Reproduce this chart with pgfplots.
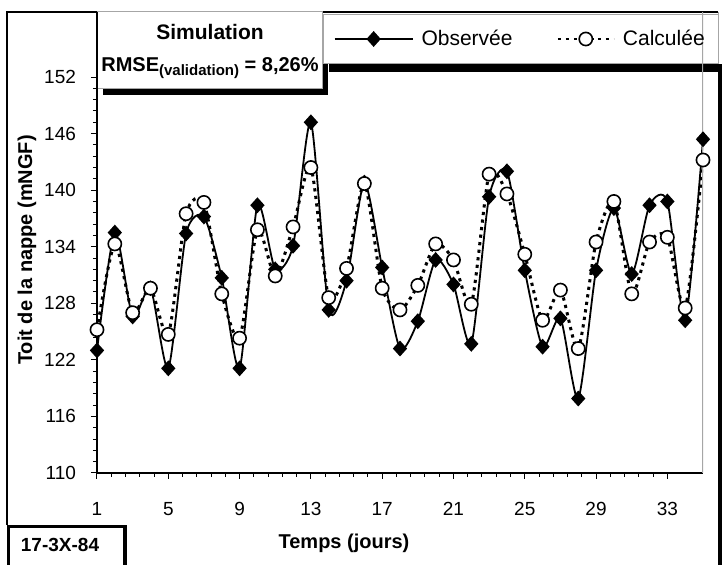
\documentclass[border=0pt]{standalone}
\usepackage{pgfplots}
\pgfplotsset{compat=1.18}
\usepackage{fontspec}
\setmainfont{Liberation Sans}

% échantillons de légende
\pgfplotsset{
  legend obs/.style={legend image code/.code={\draw[mark repeat=2,mark phase=2,##1]
    plot coordinates {(0pt,0pt) (19.5pt,0pt) (39pt,0pt)};}},
  legend calc/.style={legend image code/.code={\draw[mark repeat=2,mark phase=2,##1,
    line width=1.2pt, dash pattern=on 1.6pt off 2.4pt]
    plot coordinates {(0pt,0pt) (14pt,0pt) (28pt,0pt)};}},
}

% Toit de la nappe observé et calculé (jours 1 à 35)
\pgfplotstableread{
jour obs calc
1  123.0 125.2
2  135.5 134.3
3  126.6 127.0
4  129.6 129.6
5  121.1 124.7
6  135.4 137.5
7  137.2 138.7
8  130.7 129.0
9  121.1 124.3
10 138.4 135.8
11 131.6 130.9
12 134.1 136.1
13 147.2 142.4
14 127.3 128.6
15 130.4 131.7
16 140.8 140.7
17 131.8 129.6
18 123.2 127.3
19 126.1 129.9
20 132.6 134.3
21 130.0 132.6
22 123.7 127.9
23 139.3 141.7
24 142.0 139.6
25 131.5 133.2
26 123.4 126.2
27 126.4 129.4
28 117.9 123.2
29 131.5 134.5
30 138.1 138.8
31 131.1 129.0
32 138.4 134.5
33 138.8 135.0
34 126.2 127.5
35 145.4 143.2
}\nappe

\begin{document}
\begin{tikzpicture}[x=1pt,y=1pt]
% cadre général du graphique
\draw[black, line width=0.6pt] (-45,-26) -- (-45,230.5) -- (310.5,230.5);
\draw[gray!70, line width=0.5pt] (310.5,230.5) -- (310.5,204.5);
\fill[black] (310.5,-48) rectangle (312.6,204.5);
% encadré du titre avec ombre
\fill[black] (3,189) rectangle (115.5,229);
\filldraw[fill=white, draw=gray!70, line width=0.5pt] (0,192) rectangle (112.5,230.5);
\node[font=\bfseries\fontsize{10.5}{12}\selectfont] at (56.5,220.5) {Simulation};
\node[font=\bfseries\fontsize{10}{12}\selectfont] at (56.5,202.5)
  {RMSE\raisebox{-2.4pt}{\fontsize{7.5}{9}\selectfont(validation)} = 8,26\%};
% encadré de la légende avec ombre
\fill[black] (116,200.5) rectangle (312.6,204.5);
\filldraw[fill=white, draw=gray!70, line width=0.5pt] (113,204.5) rectangle (310.5,229);
% étiquette de la station
\filldraw[fill=white, draw=black, line width=1.6pt] (-44.2,-26.8) rectangle (14,-52);
\node[font=\bfseries\fontsize{9.5}{11}\selectfont] at (-18.5,-36) {17-3X-84};
% titres des axes
\node[font=\bfseries\fontsize{10}{12}\selectfont] at (123.5,-35) {Temps (jours)};
\node[font=\bfseries\fontsize{10}{12}\selectfont, rotate=90] at (-35,111.5) {Toit de la nappe (mNGF)};

\begin{axis}[
  at={(0,0)}, anchor=south west,
  scale only axis, width=303pt, height=230.5pt,
  xmin=1, xmax=35, ymin=110, ymax=158.9,
  axis x line*=bottom, axis y line*=left,
  axis line style={black, line width=0.7pt, -},
  xtick={1,5,...,33}, ytick={110,116,...,152},
  minor x tick num=4, minor y tick num=4,
  tick align=outside, major tick length=3pt, minor tick length=2pt,
  tick style={black, line width=0.5pt},
  ticklabel style={font=\fontsize{9.5}{11}\selectfont},
  /pgf/number format/assume math mode=true,
  xticklabel style={yshift=-8pt},
  yticklabel style={xshift=-4pt},
  legend columns=2,
  legend cell align=left,
  legend style={at={(axis description cs:0.39,0.9414)}, anchor=west,
    draw=none, fill=none, inner sep=0pt,
    font=\fontsize{10.5}{12}\selectfont,
    /tikz/every even column/.append style={column sep=20pt},
    /tikz/every odd column/.append style={column sep=2pt}},
]
\addplot[black, line width=0.9pt, smooth, tension=0.42, mark=diamond*, mark size=3.3pt,
  mark options={solid, xscale=1.2}, legend obs]
  table[x=jour, y=obs] {\nappe};
\addlegendentry{Observée}
\addplot[black, line width=1.5pt, smooth, tension=0.42, dash pattern=on 1.6pt off 2.2pt,
  mark=*, mark size=3.3pt,
  mark options={solid, fill=white, line width=0.8pt}, legend calc]
  table[x=jour, y=calc] {\nappe};
\addlegendentry{Calculée}
% bordure droite de la zone de tracé
\draw[gray!70, line width=0.6pt] (rel axis cs:1,0) -- (rel axis cs:1,1);
\end{axis}
\pgfresetboundingbox
\useasboundingbox (-48.5,-46) rectangle (312.5,236.5);
\end{tikzpicture}
\end{document}
